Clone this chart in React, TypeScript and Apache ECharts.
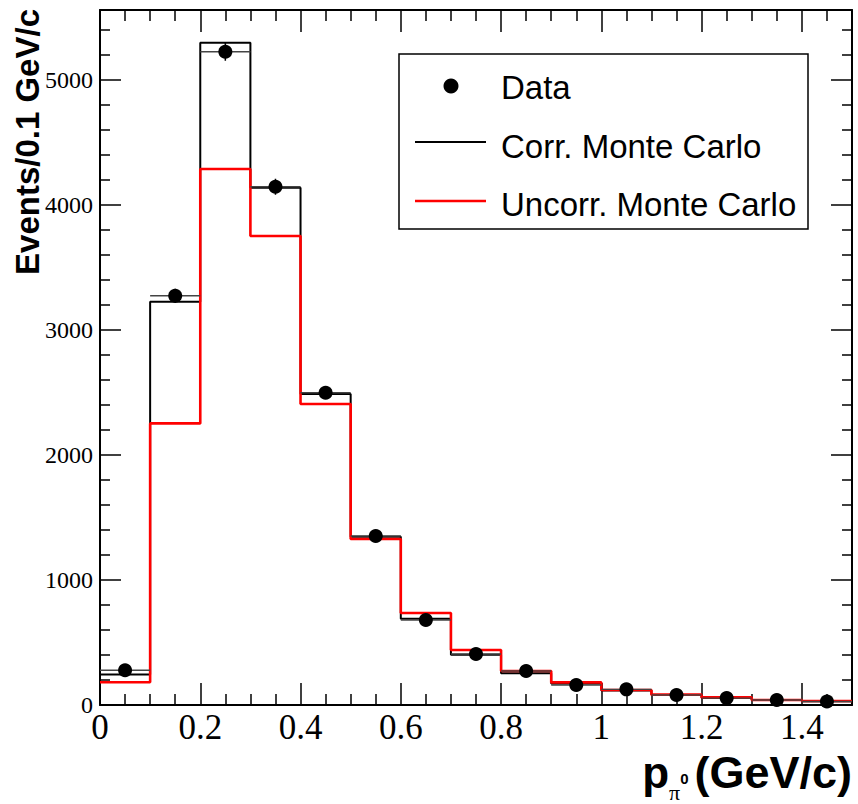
import React, { useEffect, useRef } from "react";
import * as echarts from "echarts";

// Bin lower edges (GeV/c), bin width 0.1
const binLow = [0, 0.1, 0.2, 0.3, 0.4, 0.5, 0.6, 0.7, 0.8, 0.9, 1.0, 1.1, 1.2, 1.3, 1.4];
const binWidth = 0.1;
const xEnd = 1.5;

// Values (events / 0.1 GeV/c)
const dataValues = [278, 3274, 5226, 4146, 2498, 1352, 680, 408, 272, 160, 125, 80, 55, 40, 28];
const dataErrors = [17, 57, 72, 64, 50, 37, 26, 20, 16, 13, 11, 9, 7, 6, 5];
const corrMC = [245, 3226, 5298, 4138, 2488, 1346, 690, 402, 255, 173, 117, 80, 57, 40, 30];
const uncorrMC = [182, 2253, 4288, 3752, 2408, 1328, 736, 440, 272, 181, 120, 83, 61, 40, 32];

const xMajorTicks = [0, 0.2, 0.4, 0.6, 0.8, 1, 1.2, 1.4];
const yMajorTicks = [0, 1000, 2000, 3000, 4000, 5000];
const yMax = 5560;

const legendNames = ["Data", "Corr. Monte Carlo", "Uncorr. Monte Carlo"];

function minorTicks(step: number, max: number, majors: number[]) {
  const out: number[] = [];
  for (let i = 1; i * step < max - 1e-9; i++) {
    const v = Math.round(i * step * 1000) / 1000;
    if (!majors.some((m) => Math.abs(m - v) < 1e-9)) out.push(v);
  }
  return out;
}

function histSteps(vals: number[]) {
  const pts = vals.map((v, i) => [binLow[i], v]);
  pts.push([xEnd, vals[vals.length - 1]]);
  return pts;
}

export default function App() {
  const ref = useRef<HTMLDivElement>(null);

  useEffect(() => {
    if (!ref.current) return;
    const chart = echarts.init(ref.current, null, { renderer: "svg" });
    const xMinor = minorTicks(0.05, xEnd, xMajorTicks);
    const yMinor = minorTicks(200, yMax, yMajorTicks);

    const mkX = (position: string, ticks: number[], len: number, labels: boolean, line: boolean) => ({
      type: "value",
      position,
      min: 0,
      max: xEnd,
      axisLine: { show: line, onZero: false, lineStyle: { color: "#000", width: 2 } },
      axisTick: { show: true, inside: true, length: len, customValues: ticks, lineStyle: { color: "#000", width: 1.5 } },
      axisLabel: {
        show: labels,
        customValues: ticks,
        fontFamily: "Liberation Serif",
        fontSize: 35,
        lineHeight: 35,
        color: "#000",
        margin: 4.5,
        formatter: (v: number) => String(Math.round(v * 10) / 10),
      },
      splitLine: { show: false },
    });
    const mkY = (position: string, ticks: number[], len: number, labels: boolean, line: boolean) => ({
      type: "value",
      position,
      min: 0,
      max: yMax,
      axisLine: { show: line, onZero: false, lineStyle: { color: "#000", width: 2 } },
      axisTick: { show: true, inside: true, length: len, customValues: ticks, lineStyle: { color: "#000", width: 1.5 } },
      axisLabel: {
        show: labels,
        customValues: ticks,
        fontFamily: "Liberation Serif",
        fontSize: 24,
        color: "#000",
        margin: 7,
        formatter: (v: number) => String(v),
      },
      splitLine: { show: false },
    });

    const dataPoints = dataValues.map((v, i) => [binLow[i] + binWidth / 2, v, dataErrors[i]]);

    chart.setOption({
      animation: false,
      backgroundColor: "#fff",
      grid: { left: 100, top: 10, width: 752, height: 695, containLabel: false },
      xAxis: [
        mkX("bottom", xMajorTicks, 22, true, true),
        mkX("bottom", xMinor, 11, false, false),
        mkX("top", xMajorTicks, 22, false, true),
        mkX("top", xMinor, 11, false, false),
      ],
      yAxis: [
        mkY("left", yMajorTicks, 21, true, true),
        mkY("left", yMinor, 10, false, false),
        mkY("right", yMajorTicks, 21, false, true),
        mkY("right", yMinor, 10, false, false),
      ],
      series: [
        {
          name: legendNames[1],
          type: "line",
          step: "end",
          data: histSteps(corrMC),
          showSymbol: false,
          lineStyle: { color: "#000", width: 2 },
          z: 2,
        },
        {
          name: legendNames[2],
          type: "line",
          step: "end",
          data: histSteps(uncorrMC),
          showSymbol: false,
          lineStyle: { color: "#ff0000", width: 2.6 },
          z: 3,
        },
        {
          name: legendNames[0],
          type: "custom",
          data: dataPoints,
          z: 4,
          renderItem: (params: any, api: any) => {
            const x = api.value(0);
            const y = api.value(1);
            const e = api.value(2);
            const c = api.coord([x, y]);
            const l = api.coord([x - binWidth / 2, y]);
            const r = api.coord([x + binWidth / 2, y]);
            const t = api.coord([x, y + e]);
            const b = api.coord([x, y - e]);
            return {
              type: "group",
              children: [
                { type: "line", shape: { x1: l[0], y1: c[1], x2: r[0], y2: c[1] }, style: { stroke: "#444", lineWidth: 1.3 } },
                { type: "line", shape: { x1: c[0], y1: t[1], x2: c[0], y2: b[1] }, style: { stroke: "#000", lineWidth: 1.5 } },
                { type: "circle", shape: { cx: c[0], cy: c[1], r: 7 }, style: { fill: "#000" } },
              ],
            };
          },
        },
      ],
      graphic: [
        // legend box
        { type: "rect", shape: { x: 399, y: 54, width: 409, height: 175 }, style: { fill: "#fff", stroke: "#000", lineWidth: 1.5 }, z: 10 },
        { type: "circle", shape: { cx: 451, cy: 86, r: 7.5 }, style: { fill: "#000" }, z: 11 },
        { type: "line", shape: { x1: 415, y1: 142, x2: 486, y2: 142 }, style: { stroke: "#000", lineWidth: 2 }, z: 11 },
        { type: "line", shape: { x1: 415, y1: 201, x2: 486, y2: 201 }, style: { stroke: "#ff0000", lineWidth: 2.5 }, z: 11 },
        { type: "text", x: 501, y: 87, style: { text: legendNames[0], font: "33px 'Liberation Sans'", fill: "#000", verticalAlign: "middle" }, z: 11 },
        { type: "text", x: 501, y: 146, style: { text: legendNames[1], font: "33px 'Liberation Sans'", fill: "#000", verticalAlign: "middle" }, z: 11 },
        { type: "text", x: 501, y: 204, style: { text: legendNames[2], font: "33px 'Liberation Sans'", fill: "#000", verticalAlign: "middle" }, z: 11 },
        // y axis title
        {
          type: "text",
          x: 27,
          y: 9,
          rotation: Math.PI / 2,
          style: { text: "Events/0.1 GeV/c", font: "bold 33px 'Liberation Sans'", fill: "#000", align: "right", verticalAlign: "middle" },
        },
        // x axis title (single rich text with subscript pi and superscript 0)
        {
          type: "text",
          x: 852,
          y: 803,
          style: {
            text: "{p|p}{s|π}{z|0}{t|(GeV/c)}",
            align: "right",
            verticalAlign: "bottom",
            fill: "#000",
            rich: {
              p: { font: "bold 44px 'Liberation Sans'", lineHeight: 44, verticalAlign: "bottom", padding: [0, 0, 9, 0], fill: "#000" },
              s: { font: "22px 'Liberation Serif'", lineHeight: 22, verticalAlign: "bottom", padding: [0, 0, 0, 0], fill: "#000" },
              z: { font: "bold 15px 'Liberation Sans'", lineHeight: 15, verticalAlign: "bottom", padding: [0, 6, 17, 0], fill: "#000" },
              t: { font: "bold 45px 'Liberation Sans'", lineHeight: 45, verticalAlign: "bottom", padding: [0, 0, 8.5, 0], fill: "#000" },
            },
          },
        },
      ],
    });
    return () => chart.dispose();
  }, []);

  return <div ref={ref} style={{ position: "fixed", left: 0, top: 0, width: 858, height: 804 }} />;
}
